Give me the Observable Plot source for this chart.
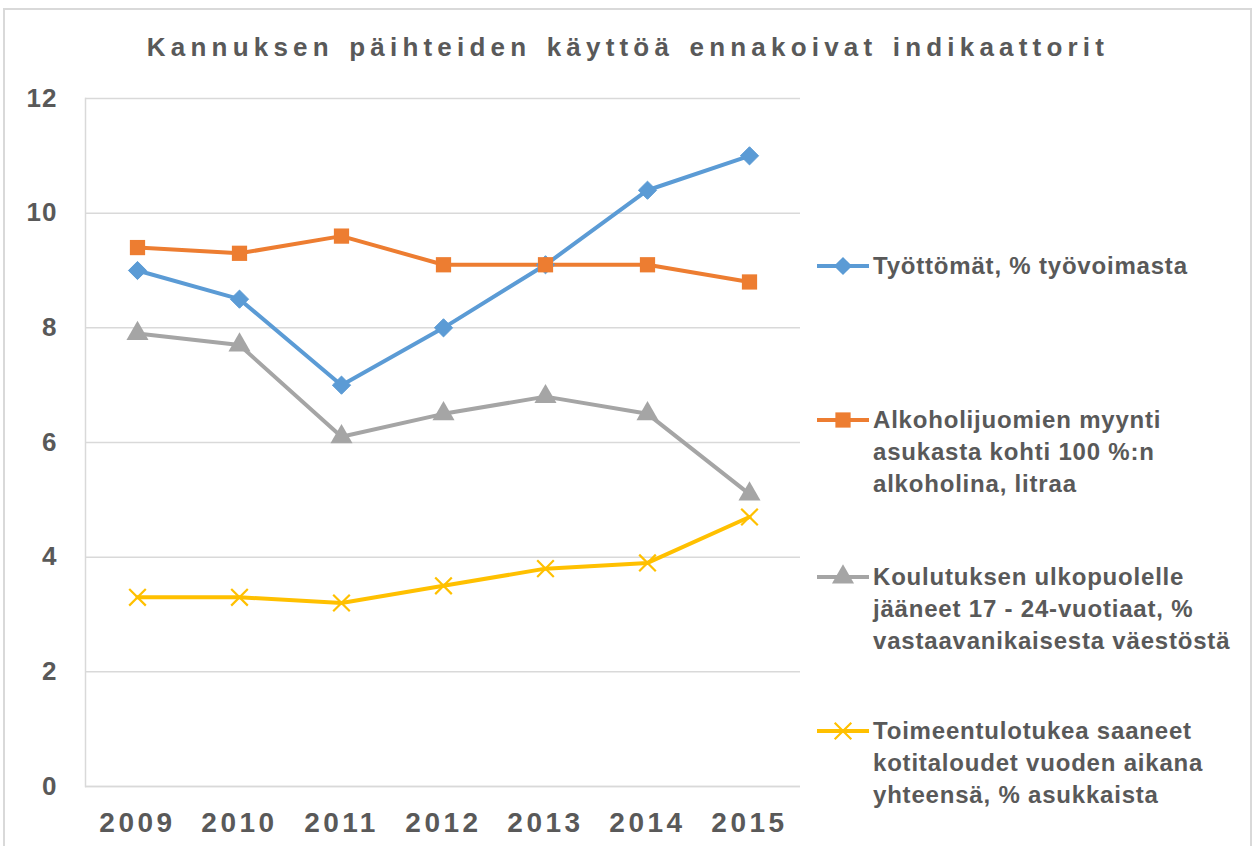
<!DOCTYPE html>
<html>
<head>
<meta charset="utf-8">
<script src="https://cdn.jsdelivr.net/npm/d3@7"></script>
<script src="https://cdn.jsdelivr.net/npm/@observablehq/plot@0.6"></script>
<style>
  html, body { margin: 0; padding: 0; background: #fff; }
  body { width: 1256px; height: 846px; overflow: hidden; position: relative; font-family: "Liberation Sans", Arial, sans-serif; }
  #frame { position: absolute; left: 3px; top: 8px; width: 1249px; height: 860px; border: 2px solid #D9D9D9; box-sizing: border-box; }
  #title { position: absolute; left: 0; top: 32px; width: 1256px; text-align: center; font-size: 26px; font-weight: bold; color: #595959; letter-spacing: 5.2px; word-spacing: 3px; line-height: 30px; }
  #chart { position: absolute; left: 0; top: 0; }
  #legend { position: absolute; left: 0; top: 0; width: 1256px; height: 846px; pointer-events: none; }
  .entry { position: absolute; left: 817px; }
  .entry svg { position: absolute; left: 0; top: 0; overflow: visible; }
  .entry .lbl { position: absolute; left: 56px; top: 0; font-size: 24px; font-weight: bold; color: #595959; letter-spacing: 0.8px; line-height: 32px; white-space: nowrap; }
  g[aria-label="x-axis tick label"] text { letter-spacing: 3.5px; }
  g[aria-label="y-axis tick label"] text { letter-spacing: 1px; }
</style>
</head>
<body>
<div id="frame"></div>
<div id="chart"></div>
<div id="title"></div>
<div id="legend"></div>
<script>
const titleText = "Kannuksen päihteiden käyttöä ennakoivat indikaattorit";
const years = [2009, 2010, 2011, 2012, 2013, 2014, 2015];
const yTicks = [0, 2, 4, 6, 8, 10, 12];

const seriesNames = [
  "Työttömät, % työvoimasta",
  "Alkoholijuomien myynti asukasta kohti 100 %:n alkoholina, litraa",
  "Koulutuksen ulkopuolelle jääneet 17 - 24-vuotiaat, % vastaavanikaisesta väestöstä",
  "Toimeentulotukea saaneet kotitaloudet vuoden aikana yhteensä, % asukkaista"
];
const legendLines = [
  ["Työttömät, % työvoimasta"],
  ["Alkoholijuomien myynti", "asukasta kohti 100 %:n", "alkoholina, litraa"],
  ["Koulutuksen ulkopuolelle", "jääneet 17 - 24-vuotiaat, %", "vastaavanikaisesta väestöstä"],
  ["Toimeentulotukea saaneet", "kotitaloudet vuoden aikana", "yhteensä, % asukkaista"]
];
const tyottomat = [9.0, 8.5, 7.0, 8.0, 9.1, 10.4, 11.0];
const alkoholi = [9.4, 9.3, 9.6, 9.1, 9.1, 9.1, 8.8];
const koulutus = [7.9, 7.7, 6.1, 6.5, 6.8, 6.5, 5.1];
const toimeentulo = [3.3, 3.3, 3.2, 3.5, 3.8, 3.9, 4.7];

const colors = ["#5B9BD5", "#ED7D31", "#A5A5A5", "#FFC000"];
const symbols = ["diamond2", "square", "triangle", "times"];
const radii = [8.2, 8.6, 8.2, 7.6];
const allValues = [tyottomat, alkoholi, koulutus, toimeentulo];

const data = [];
allValues.forEach((vals, i) => vals.forEach((v, j) => data.push({year: years[j], value: v, series: seriesNames[i], idx: i})));

document.getElementById("title").textContent = titleText;

const dotMarks = seriesNames.map((name, i) => {
  const d = data.filter(r => r.idx === i);
  const filled = symbols[i] !== "times";
  return Plot.dot(d, {
    x: "year", y: "value", symbol: () => symbols[i], r: radii[i],
    fill: filled ? colors[i] : "none",
    stroke: colors[i], strokeWidth: filled ? (symbols[i] === "diamond2" ? 1 : 0) : 2.2
  });
});

const chart = Plot.plot({
  width: 1256,
  height: 846,
  marginLeft: 85,
  marginRight: 456,
  marginTop: 98,
  marginBottom: 60,
  style: { fontFamily: "'Liberation Sans', Arial, sans-serif", color: "#595959", background: "transparent", overflow: "visible" },
  x: { type: "point", domain: years, padding: 0.5 },
  y: { domain: [0, 12], ticks: yTicks },
  symbol: { type: "identity" },
  marks: [
    Plot.gridY(yTicks, { stroke: "#D9D9D9", strokeOpacity: 1, strokeWidth: 1.5 }),
    Plot.frame({ anchor: "left", stroke: "#D9D9D9", strokeWidth: 1.5 }),
    Plot.ruleY([0], { stroke: "#D9D9D9", strokeWidth: 1.5 }),
    Plot.axisY(yTicks, { tickSize: 0, tickPadding: 28, fontSize: 26, fontWeight: "bold", fill: "#595959", label: null, tickFormat: d => String(d) }),
    Plot.axisX(years, { tickSize: 0, tickPadding: 26, fontSize: 28, fontWeight: "bold", fill: "#595959", label: null, tickFormat: d => String(d) }),
    Plot.line(data, { x: "year", y: "value", z: "series", stroke: d => colors[d.idx], strokeWidth: 4, strokeLinejoin: "round", strokeLinecap: "round" }),
    ...dotMarks
  ]
});
document.getElementById("chart").appendChild(chart);

// Legend
const legendTops = [266, 420, 577, 731];
const legend = document.getElementById("legend");
legendLines.forEach((lines, i) => {
  const e = document.createElement("div");
  e.className = "entry";
  e.style.top = (legendTops[i] - 16) + "px";
  const svg = d3.create("svg").attr("width", 52).attr("height", 32);
  svg.append("line").attr("x1", 0).attr("x2", 52).attr("y1", 16).attr("y2", 16)
    .attr("stroke", colors[i]).attr("stroke-width", 4);
  const symMap = { diamond2: d3.symbolDiamond2, square: d3.symbolSquare, triangle: d3.symbolTriangle, times: d3.symbolTimes };
  const filled = symbols[i] !== "times";
  svg.append("path").attr("transform", "translate(26,16)")
    .attr("d", d3.symbol(symMap[symbols[i]], Math.PI * radii[i] * radii[i])())
    .attr("fill", filled ? colors[i] : "none")
    .attr("stroke", colors[i]).attr("stroke-width", filled ? 0 : 2.2);
  e.appendChild(svg.node());
  const lbl = document.createElement("div");
  lbl.className = "lbl";
  lbl.innerHTML = lines.map(l => l.replace(/&/g, "&amp;")).join("<br>");
  e.appendChild(lbl);
  legend.appendChild(e);
});
</script>
</body>
</html>
